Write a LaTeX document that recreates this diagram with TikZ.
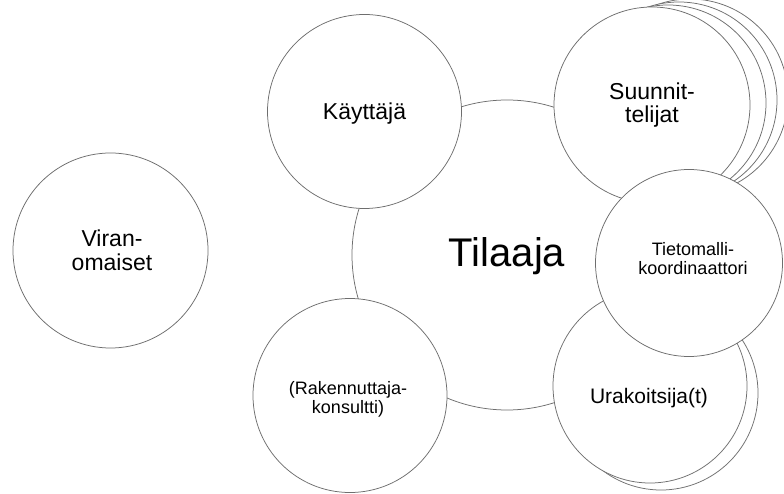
\documentclass[tikz,border=0pt]{standalone}
\usepackage{fontspec}
\setmainfont{Liberation Sans}
\definecolor{rim}{RGB}{110,110,110}
\tikzset{
  party/.style={circle, draw=rim, line width=0.75pt, fill=white, inner sep=0pt},
  % captions are placed by the baseline of their last line
  caption/.style={anchor=base, align=center, inner sep=0pt, text=black},
  txtS/.style={font=\fontsize{18}{19}\selectfont},
  txtM/.style={font=\fontsize{21}{23}\selectfont},
  txtL/.style={font=\fontsize{23}{23.5}\selectfont},
  txtXL/.style={font=\fontsize{40}{44}\selectfont}
}
\begin{document}
\begin{tikzpicture}[x=1pt, y=-1pt]
  \clip (0,0) rectangle (784,494);
  \fill[white] (0,0) rectangle (784,494);

  % authorities, standing apart
  \node[party, minimum size=195pt] (viran) at (110.5,250.5) {};
  \node[caption, txtL] (viran-t) at (112,270) {Viran-\\omaiset};

  % the client in the middle
  \node[party, minimum size=310pt] (tilaaja) at (507,255) {};
  \node[caption, txtXL] (tilaaja-t) at (507,267) {Tilaaja};

  % user and client's consultant
  \node[party, minimum size=194pt] (kayttaja) at (364.5,111.5) {};
  \node[caption, txtL] (kayttaja-t) at (364.5,120) {Käyttäjä};
  \node[party, minimum size=194pt] (rakennuttaja) at (350,395.5) {};
  \node[caption, txtS] (rakennuttaja-t) at (348,413) {(Rakennuttaja-\\konsultti)};

  % designers: a stack of several circles
  \node[party, minimum size=196pt] (suunn3) at (690,97) {};
  \node[party, minimum size=196pt] (suunn2) at (679,100) {};
  \node[party, minimum size=196pt] (suunn1) at (668,103) {};
  \node[party, minimum size=196pt] (suunn) at (652,105) {};
  \node[caption, txtL] (suunn-t) at (652,123) {Suunnit-\\telijat};

  % contractors: two stacked circles
  \node[party, minimum size=194pt] (urak1) at (661,393) {};
  \node[party, minimum size=194pt] (urak) at (650,386) {};
  \node[caption, txtM] (urak-t) at (649,403) {Urakoitsija(t)};

  % BIM coordinator on top
  \node[party, minimum size=187pt] (tieto) at (689,263) {};
  \node[caption, txtS] (tieto-t) at (693,275) {Tietomalli-\\koordinaattori};
\end{tikzpicture}
\end{document}
